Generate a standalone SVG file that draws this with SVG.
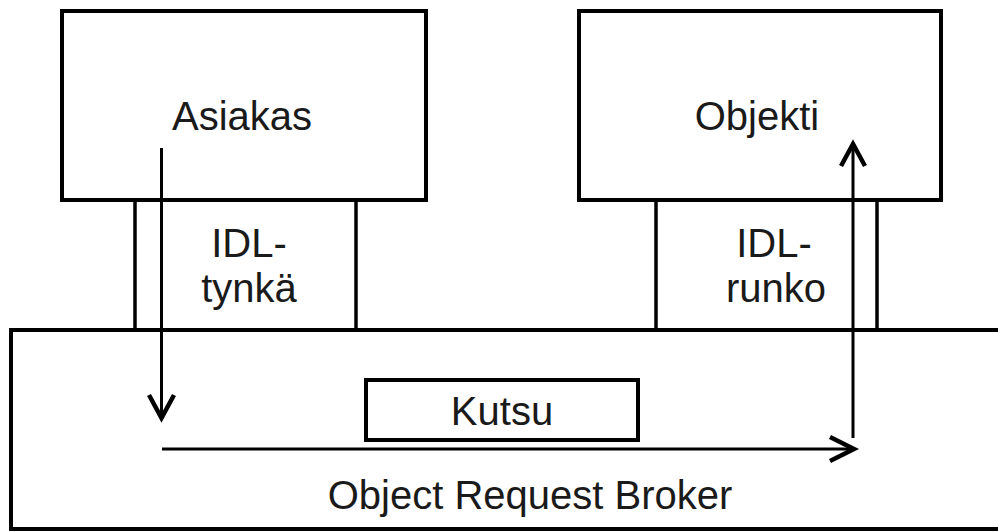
<svg xmlns="http://www.w3.org/2000/svg" width="998" height="532" viewBox="0 0 998 532">
<style>
.box{fill:none;stroke:#000;stroke-width:4}
.stub{fill:none;stroke:#000;stroke-width:3.5}
.lbl{font-family:"Liberation Sans",Arial,sans-serif;font-size:40px;fill:#1a1a1a;text-anchor:middle}
.wire{fill:none;stroke:#000;stroke-width:3}
.head{fill:none;stroke:#000;stroke-width:4.5;stroke-linejoin:miter;stroke-linecap:butt}
</style>
<rect width="998" height="532" fill="#fff"/>
<g id="orb">
<rect class="box" x="11" y="330" width="1000" height="199"/>
<text class="lbl" x="530" y="509">Object Request Broker</text>
</g>
<g id="asiakas">
<rect class="box" x="62" y="11" width="364" height="189"/>
<text class="lbl" x="242" y="130">Asiakas</text>
</g>
<g id="tynka">
<line class="stub" x1="135" y1="200" x2="135" y2="330"/>
<line class="stub" x1="356" y1="200" x2="356" y2="330"/>
<text class="lbl" x="249" y="257">IDL-</text>
<text class="lbl" x="249" y="302">tynkä</text>
</g>
<g id="objekti">
<rect class="box" x="579" y="11" width="362" height="189"/>
<text class="lbl" x="757" y="130">Objekti</text>
</g>
<g id="runko">
<line class="stub" x1="656" y1="200" x2="656" y2="330"/>
<line class="stub" x1="877" y1="200" x2="877" y2="330"/>
<text class="lbl" x="774" y="257">IDL-</text>
<text class="lbl" x="776" y="302">runko</text>
</g>
<g id="kutsu">
<rect class="box" x="366" y="380" width="272" height="60"/>
<text class="lbl" x="502" y="425">Kutsu</text>
</g>
<g id="connectors">
<line class="wire" x1="161.5" y1="148" x2="161.5" y2="416"/>
<polyline class="head" points="149,395 161.5,418 174,395"/>
<line class="wire" x1="162" y1="449" x2="852" y2="449" stroke-width="3.5"/>
<polyline class="head" points="830,437 854,449 830,461"/>
<line class="wire" x1="853" y1="438" x2="853" y2="146"/>
<polyline class="head" points="841,166 853,144 865,166"/>
</g>
</svg>
